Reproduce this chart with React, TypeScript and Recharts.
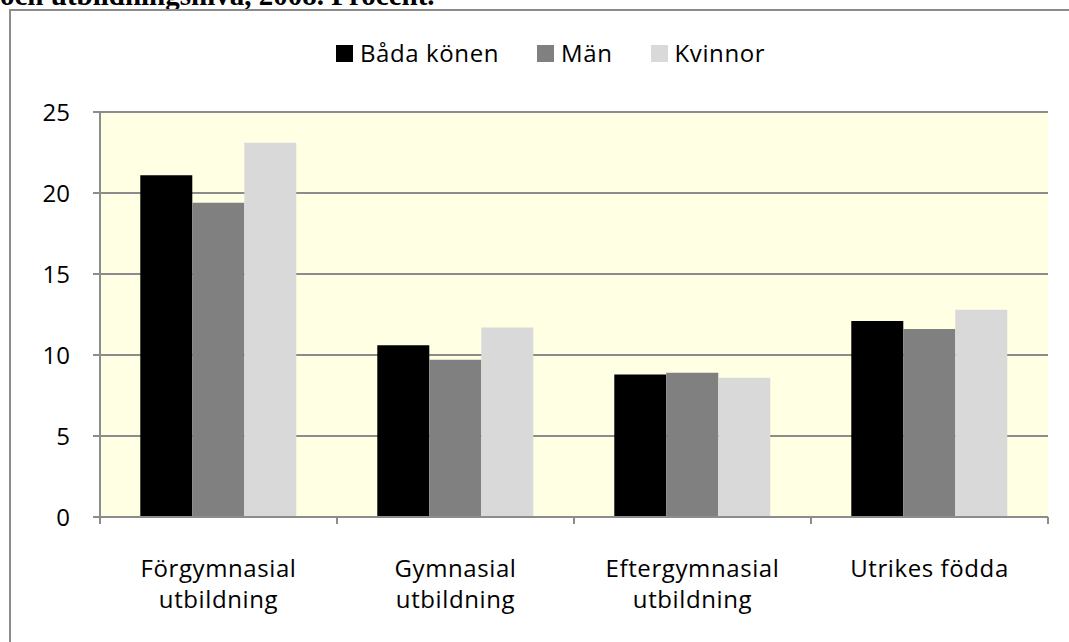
import { Bar, BarChart, CartesianGrid, XAxis, YAxis } from "recharts";

const CATEGORIES = [
  "Förgymnasial\nutbildning",
  "Gymnasial\nutbildning",
  "Eftergymnasial\nutbildning",
  "Utrikes födda",
];
const BADA = [21.1, 10.6, 8.8, 12.1];
const MAN = [19.4, 9.7, 8.9, 11.6];
const KVINNOR = [23.1, 11.7, 8.6, 12.8];
const Y_TICKS = [0, 5, 10, 15, 20, 25];

const SERIES = [
  { key: "bada", name: "Båda könen", color: "#000000" },
  { key: "man", name: "Män", color: "#808080" },
  { key: "kvinnor", name: "Kvinnor", color: "#d9d9d9" },
];

const data = CATEGORIES.map((name, i) => ({
  name,
  bada: BADA[i],
  man: MAN[i],
  kvinnor: KVINNOR[i],
}));

const FONT = "'Open Sans', 'Noto Sans', sans-serif";
const SPACING = "0.6px";
const AXIS = "#8c8c8c";

// category label + tick marks at the band edges (like Excel)
function CategoryTick(props: any) {
  const { x, y, payload, index, visibleTicksCount, width } = props;
  const off = payload.offset ?? width / visibleTicksCount / 2;
  const lines = String(payload.value).split("\n");
  return (
    <g>
      <line x1={x - off} x2={x - off} y1={y} y2={y + 7} stroke={AXIS} strokeWidth={2} />
      {index === visibleTicksCount - 1 && (
        <line x1={x + off} x2={x + off} y1={y} y2={y + 7} stroke={AXIS} strokeWidth={2} />
      )}
      <text
        x={x} y={y} textAnchor="middle" fontFamily={FONT} fontSize={24} fill="#000"
        style={{ letterSpacing: SPACING }}
      >
        {lines.map((l, i) => (
          <tspan key={i} x={x} dy={i === 0 ? 60 : 31}>{l}</tspan>
        ))}
      </text>
    </g>
  );
}

export default function App() {
  return (
    <div
      style={{
        position: "absolute", left: 0, top: 0, width: 1069, height: 642,
        overflow: "hidden", background: "#fff",
      }}
    >
      {/* caption above the chart, cut off by the crop as in the original */}
      <div
        style={{
          position: "absolute", left: 0, top: -19, fontFamily: "'Liberation Serif', serif",
          fontWeight: "bold", fontSize: 29, lineHeight: "29px", whiteSpace: "nowrap",
        }}
      >
        och utbildningsnivå, 2008. Procent.
      </div>
      <div
        style={{
          position: "absolute", left: 9, top: 9, width: 1100, height: 700,
          borderLeft: `2px solid ${AXIS}`, borderTop: `2px solid ${AXIS}`,
        }}
      />
      {/* legend */}
      <div
        style={{
          position: "absolute", left: 336, top: 37, display: "flex", gap: 38,
          fontFamily: FONT, fontSize: 24, lineHeight: "32px", color: "#000",
          letterSpacing: SPACING,
        }}
      >
        {SERIES.map((s) => (
          <div key={s.key} style={{ display: "flex", alignItems: "center" }}>
            <span
              style={{ width: 17, height: 17, background: s.color, marginRight: 7, display: "inline-block" }}
            />
            <span>{s.name}</span>
          </div>
        ))}
      </div>
      <div style={{ position: "absolute", left: 0, top: 0 }}>
        <BarChart
          width={1069}
          height={642}
          data={data}
          margin={{ top: 112, right: 21, left: 40, bottom: 65 }}
          barCategoryGap="17%"
          barGap={0}
        >
          <CartesianGrid
            vertical={false}
            fill="#ffffe4"
            fillOpacity={1}
            stroke={AXIS}
            strokeWidth={2}
          />
          <XAxis
            dataKey="name"
            height={60}
            interval={0}
            tickLine={false}
            tickSize={0}
            tickMargin={0}
            axisLine={{ stroke: AXIS, strokeWidth: 2 }}
            tick={<CategoryTick />}
          />
          <YAxis
            width={60}
            domain={[0, 25]}
            ticks={Y_TICKS}
            interval={0}
            tickSize={7}
            tickMargin={23}
            tickLine={{ stroke: AXIS, strokeWidth: 2 }}
            axisLine={{ stroke: AXIS, strokeWidth: 2 }}
            tick={{ fontFamily: FONT, fontSize: 24, fill: "#000" }}
          />
          {SERIES.map((s) => (
            <Bar key={s.key} dataKey={s.key} name={s.name} fill={s.color} isAnimationActive={false} />
          ))}
        </BarChart>
      </div>
    </div>
  );
}
